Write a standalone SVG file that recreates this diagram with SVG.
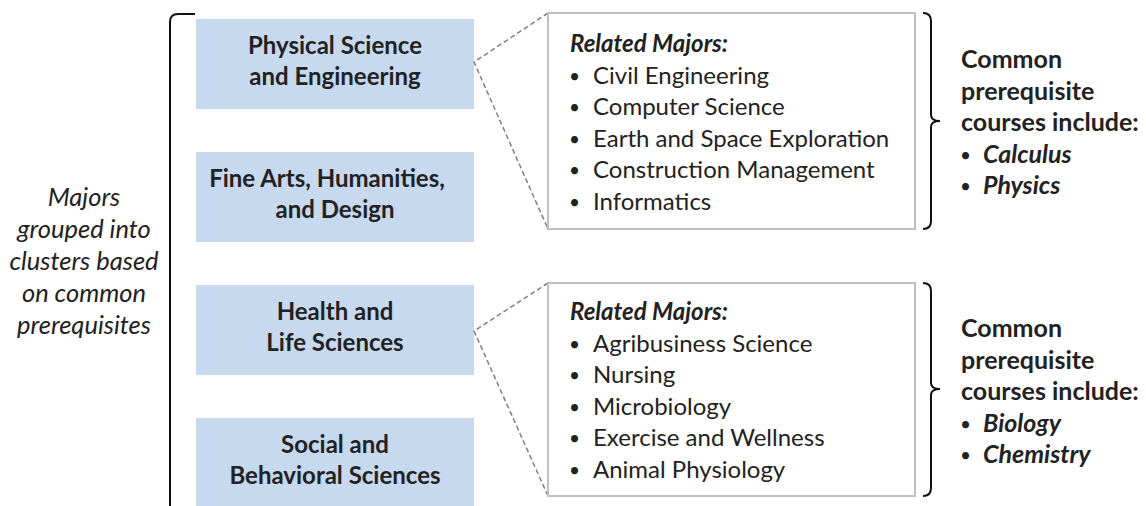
<svg xmlns="http://www.w3.org/2000/svg" width="1146" height="506" viewBox="0 0 1146 506">
<style>
.cluster{fill:#c6d9ef}
.ctext{font-family:Lato,"Liberation Sans",sans-serif;font-weight:bold;font-size:24px;fill:#222;text-anchor:middle}
.rel{fill:#fff;stroke:#c0c0c0;stroke-width:2}
.ltxt{font-family:Lato,"Liberation Sans",sans-serif;font-size:24px;fill:#222}
.head{font-weight:bold;font-style:italic}
.bul{font-family:Lato,"Liberation Sans",sans-serif;font-size:19px;fill:#222}
.ptxt{font-family:Lato,"Liberation Sans",sans-serif;font-weight:bold;font-size:25px;fill:#222}
.it{font-style:italic}
.side{font-family:Lato,"Liberation Sans",sans-serif;font-style:italic;font-size:25.5px;fill:#222;text-anchor:middle}
.brk{fill:none;stroke:#111;stroke-width:2}
.dash{fill:none;stroke:#808080;stroke-width:1.5;stroke-dasharray:5 3}
</style>
<g id="side-label">
<text class="side" x="84" y="206">Majors</text>
<text class="side" x="84" y="238">grouped into</text>
<text class="side" x="84" y="270">clusters based</text>
<text class="side" x="84" y="302">on common</text>
<text class="side" x="84" y="334">prerequisites</text>
</g>
<g id="left-bracket"><path class="brk" d="M195,14 H178 Q170,14 170,22 V520"/></g>
<g id="cluster-physical">
<rect class="cluster" x="196" y="19" width="278" height="90"/>
<text class="ctext" x="335" y="54">Physical Science</text>
<text class="ctext" x="335" y="85">and Engineering</text>
</g>
<g id="cluster-finearts">
<rect class="cluster" x="196" y="152" width="278" height="90"/>
<text class="ctext" x="327" y="187">Fine Arts, Humanities,</text>
<text class="ctext" x="335" y="218">and Design</text>
</g>
<g id="cluster-health">
<rect class="cluster" x="196" y="285" width="278" height="90"/>
<text class="ctext" x="335" y="320">Health and</text>
<text class="ctext" x="335" y="351">Life Sciences</text>
</g>
<g id="cluster-social">
<rect class="cluster" x="196" y="418" width="278" height="90"/>
<text class="ctext" x="335" y="453">Social and</text>
<text class="ctext" x="335" y="484">Behavioral Sciences</text>
</g>
<g id="connectors">
<polyline class="dash" points="548,13 474,62 548,229"/>
<polyline class="dash" points="548,283 474,331 548,496"/>
</g>
<g id="majors-physical">
<rect class="rel" x="548" y="13" width="367" height="216"/>
<text class="ltxt head" x="570" y="52">Related Majors:</text>
<text class="bul" x="569" y="82.6">•</text><text class="ltxt" x="593" y="83.6">Civil Engineering</text>
<text class="bul" x="569" y="114.2">•</text><text class="ltxt" x="593" y="115.2">Computer Science</text>
<text class="bul" x="569" y="145.8">•</text><text class="ltxt" x="593" y="146.8">Earth and Space Exploration</text>
<text class="bul" x="569" y="177.4">•</text><text class="ltxt" x="593" y="178.4">Construction Management</text>
<text class="bul" x="569" y="209">•</text><text class="ltxt" x="593" y="210">Informatics</text>
</g>
<g id="majors-health">
<rect class="rel" x="548" y="283" width="367" height="213"/>
<text class="ltxt head" x="570" y="320">Related Majors:</text>
<text class="bul" x="569" y="350.6">•</text><text class="ltxt" x="593" y="351.6">Agribusiness Science</text>
<text class="bul" x="569" y="382.2">•</text><text class="ltxt" x="593" y="383.2">Nursing</text>
<text class="bul" x="569" y="413.8">•</text><text class="ltxt" x="593" y="414.8">Microbiology</text>
<text class="bul" x="569" y="445.4">•</text><text class="ltxt" x="593" y="446.4">Exercise and Wellness</text>
<text class="bul" x="569" y="477">•</text><text class="ltxt" x="593" y="478">Animal Physiology</text>
</g>
<g id="prereq-physical">
<path class="brk" d="M923,13 Q931,13 931,21 V115 Q931,121 940,121 Q931,121 931,127 V221 Q931,229 923,229"/>
<text class="ptxt" x="961" y="68">Common</text>
<text class="ptxt" x="961" y="99.5">prerequisite</text>
<text class="ptxt" x="961" y="131">courses include:</text>
<text class="bul" x="960" y="161.5">•</text><text class="ptxt it" x="983" y="162.5">Calculus</text>
<text class="bul" x="960" y="193">•</text><text class="ptxt it" x="983" y="194">Physics</text>
</g>
<g id="prereq-health">
<path class="brk" d="M923,283 Q931,283 931,291 V383 Q931,389 940,389 Q931,389 931,395 V488 Q931,496 923,496"/>
<text class="ptxt" x="961" y="337">Common</text>
<text class="ptxt" x="961" y="368.5">prerequisite</text>
<text class="ptxt" x="961" y="400">courses include:</text>
<text class="bul" x="960" y="430.5">•</text><text class="ptxt it" x="983" y="431.5">Biology</text>
<text class="bul" x="960" y="462">•</text><text class="ptxt it" x="983" y="463">Chemistry</text>
</g>
</svg>
